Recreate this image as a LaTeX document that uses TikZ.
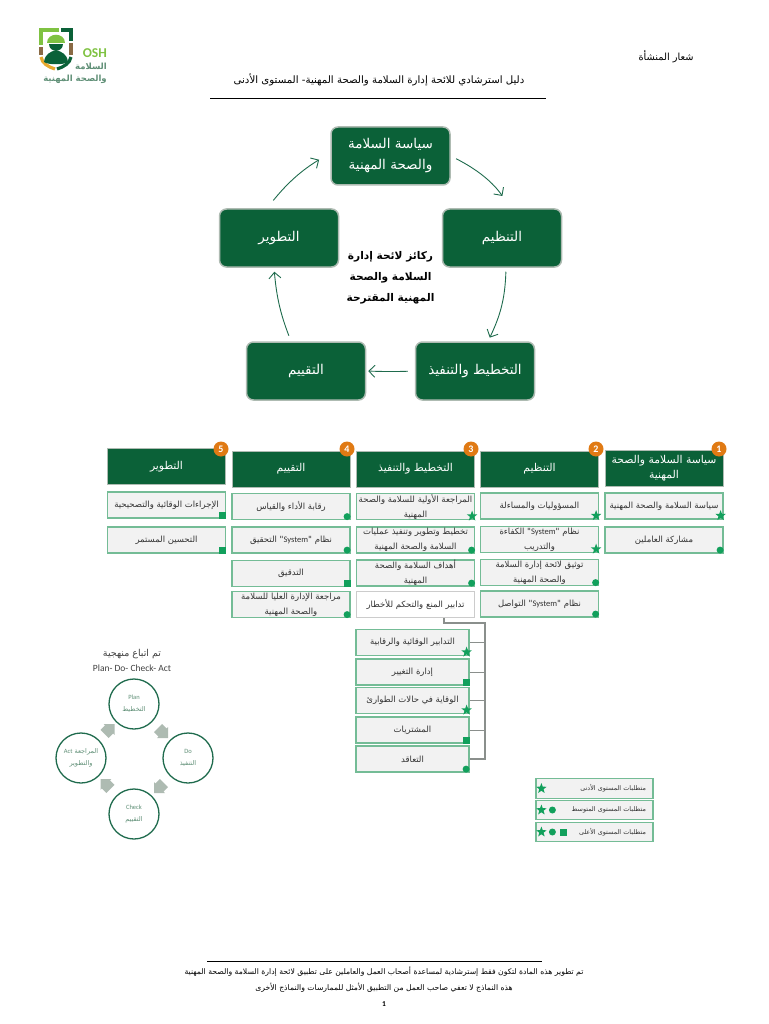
\documentclass[tikz,border=0pt]{standalone}
\usepackage{fontspec}
\TeXXeTstate=1
\setmainfont{Carlito}
\newfontfamily\arabicfont[Script=Arabic]{DejaVu Sans}
\usetikzlibrary{positioning,calc,arrows.meta,shapes.geometric,shapes.arrows}
\definecolor{darkgreen}{HTML}{0B6138}
\definecolor{markgreen}{HTML}{12A05C}
\definecolor{boxline}{HTML}{74BC96}
\definecolor{boxfill}{HTML}{F2F2F2}
\definecolor{ringgreen}{HTML}{1F6B4D}
\definecolor{softgreen}{HTML}{5F8F76}
\definecolor{arrowgrey}{HTML}{AEBBB2}
\definecolor{trunkgrey}{HTML}{8A8F8C}
\definecolor{badgeorange}{HTML}{E07A14}
\definecolor{logolime}{HTML}{7FC242}
\definecolor{logobrown}{HTML}{8A6A45}
\definecolor{logoyellow}{HTML}{E8A92E}
\newcommand{\ar}[1]{{\arabicfont\beginR #1\endR}}
\newcommand{\lat}[1]{\beginL{\normalfont #1}\endL}
\tikzset{
  pillar/.style={draw=arrowgrey, line width=1.5pt, fill=darkgreen, rounded corners=7pt,
    minimum width=119pt, minimum height=58pt, text=white, align=center, font=\fontsize{13.5}{21}\selectfont},
  flowline/.style={draw=ringgreen, line width=0.9pt, -{Straight Barb[length=6pt,width=12pt]}},
  headbox/.style={draw=arrowgrey, line width=0.8pt, fill=darkgreen, minimum width=118pt, minimum height=36pt,
    inner sep=0pt, text=white, align=center, font=\fontsize{10.8}{15}\selectfont},
  itembox/.style={draw=boxline, line width=1.2pt, fill=boxfill, minimum width=118pt, minimum height=26pt,
    inner sep=0pt, align=center, text=black!80, font=\fontsize{8.5}{15}\selectfont},
  riskbox/.style={itembox, draw=black!20, fill=white},
  subbox/.style={itembox, minimum width=113pt},
  badge/.style={circle, fill=badgeorange, minimum size=15pt, inner sep=0pt, text=white, font=\fontsize{10}{10}\bfseries\selectfont},
  starmark/.style={star, star points=5, star point ratio=2.4, fill=markgreen, minimum size=11pt, inner sep=0pt},
  dotmark/.style={circle, fill=markgreen, minimum size=7pt, inner sep=0pt},
  squaremark/.style={rectangle, fill=markgreen, minimum size=7pt, inner sep=0pt},
  legendbox/.style={itembox, minimum width=117pt, minimum height=19.5pt, text width=103pt, inner xsep=7pt,
    align=right, font=\fontsize{6.4}{7}\selectfont},
  pdcaring/.style={circle, draw=ringgreen, line width=1.3pt, fill=white, minimum size=50pt, inner sep=0pt,
    align=center, text=softgreen, font=\fontsize{6.5}{12}\selectfont},
  blockarrow/.style={single arrow, fill=arrowgrey, single arrow head extend=2pt, inner sep=0pt},
  trunk/.style={draw=trunkgrey, line width=1.1pt},
  branch/.style={draw=trunkgrey, line width=0.6pt},
  plain/.style={inner sep=0pt, align=center},
}
\begin{document}
\begin{tikzpicture}[x=1pt, y=-1pt]
  \useasboundingbox (0,0) rectangle (768,1024);

  % logo
  \draw[line width=3.2pt, draw=logolime] (41,45) -- (41,30) -- (59,30);
  \draw[line width=3.2pt, draw=darkgreen] (61,30) -- (71,30) -- (71,41);
  \draw[line width=3.2pt, draw=logobrown] (71,43) -- (71,55);
  \draw[line width=3.2pt, draw=logobrown] (41,47) -- (41,55);
  \draw[line width=3.2pt, draw=logoyellow] (41,57) .. controls (42,63) and (48,67) .. (55,69);
  \draw[line width=3.2pt, draw=darkgreen] (57,69) .. controls (64,67) and (70,63) .. (71,57);
  \fill[logolime] (47,43) .. controls (47,32) and (65,32) .. (65,43) -- cycle;
  \fill[darkgreen] (49,44) .. controls (49,53) and (63,53) .. (63,44) -- cycle;
  \fill[darkgreen] (44,62) .. controls (45,54) and (50,52) .. (56,50) .. controls (62,52) and (67,54) .. (68,62) .. controls (64,65) and (48,65) .. (44,62) -- cycle;
  \node[plain, anchor=east, text=logolime, font=\fontsize{13.5}{14}\bfseries\selectfont] (logoosh) at (107,53) {OSH};
  \node[plain, anchor=east, text=softgreen, font=\fontsize{8.5}{9}\bfseries\selectfont] (logoname) at (107,66) {\ar{السلامة}};
  \node[plain, anchor=east, text=softgreen, font=\fontsize{8.5}{9}\bfseries\selectfont] (logosub) at (107,79) {\ar{والصحة المهنية}};

  % header
  \node[plain, font=\fontsize{9.8}{10}\selectfont] (orglogo) at (666,57) {\ar{شعار المنشأة}};
  \node[plain, font=\fontsize{10.2}{11}\selectfont] (guidetitle) at (379,80) {\ar{دليل استرشادي للائحة إدارة السلامة والصحة المهنية- المستوى الأدنى}};
  \coordinate (ruleleft) at (210,98);
  \coordinate (ruleright) at (546,98);
  \draw[line width=0.7pt] (ruleleft) -- (ruleright);

  % pillars
  \node[pillar] (policy) at (390.5,156) {\ar{سياسة السلامة}\\\ar{والصحة المهنية}};
  \node[pillar] (organize) at (502,238) {\ar{التنظيم}};
  \node[pillar] (develop) at (279,238) {\ar{التطوير}};
  \node[pillar] (plan) at (475,371) {\ar{التخطيط والتنفيذ}};
  \node[pillar] (assess) at (306,371) {\ar{التقييم}};
  \node[plain, font=\fontsize{10.6}{21}\bfseries\selectfont] (pillartitle) at (390.5,278)
    {\ar{ركائز لائحة إدارة}\\\ar{السلامة والصحة}\\\ar{المهنية المقترحة}};

  \draw[flowline, shorten <=6pt, shorten >=15pt] (policy.east) to[bend left=14] ([xshift=9pt]organize.north);
  \draw[flowline, shorten <=4pt, shorten >=4pt] ([xshift=4pt]organize.south) to[bend left=12] ([xshift=13pt]plan.north);
  \draw[flowline, shorten <=7pt, shorten >=2pt] (plan.west) to[bend left=2] (assess.east);
  \draw[flowline, shorten <=6pt, shorten >=4pt] ([xshift=-15pt]assess.north) to[bend left=8] ([xshift=-5pt]develop.south);
  \draw[flowline, shorten <=10pt, shorten >=13pt] ([xshift=-12pt]develop.north) to[bend left=10] ([yshift=3pt]policy.west);

  % table heads
  \node[headbox] (headfive) at (166.5,466.5) {\ar{التطوير}};
  \node[headbox] (headfour) at (291,469) {\ar{التقييم}};
  \node[headbox] (headthree) at (415.5,469) {\ar{التخطيط والتنفيذ}};
  \node[headbox] (headtwo) at (539.5,469) {\ar{التنظيم}};
  \node[headbox] (headone) at (664,468.5) {\ar{سياسة السلامة والصحة}\\\ar{المهنية}};
  \foreach \nm/\bx/\num in {five/221/5,four/347/4,three/471/3,two/596/2,one/719/1}
    \node[badge] (badge\nm) at (\bx,449) {\num};

  % table items
  \foreach \nm/\cx/\cy/\txt in {
    fivea/166.5/505/{\ar{الإجراءات الوقائية والتصحيحية}},
    fiveb/166.5/540/{\ar{التحسين المستمر}},
    foura/291/506.5/{\ar{رقابة الأداء والقياس}},
    fourb/291/540/{\ar{نظام "\lat{System}" التحقيق}},
    fourc/291/573.5/{\ar{التدقيق}},
    fourd/291/604.5/{\ar{مراجعة الإدارة العليا للسلامة}\\\ar{والصحة المهنية}},
    threea/415.5/506.5/{\ar{المراجعة الأولية للسلامة والصحة}\\\ar{المهنية}},
    threeb/415.5/540/{\ar{تخطيط وتطوير وتنفيذ عمليات}\\\ar{السلامة والصحة المهنية}},
    threec/415.5/573/{\ar{أهداف السلامة والصحة}\\\ar{المهنية}},
    twoa/539.5/506/{\ar{المسؤوليات والمساءلة}},
    twob/539.5/539.5/{\ar{نظام "\lat{System}" الكفاءة}\\\ar{والتدريب}},
    twoc/539.5/572.5/{\ar{توثيق لائحة إدارة السلامة}\\\ar{والصحة المهنية}},
    twod/539.5/604/{\ar{نظام "\lat{System}" التواصل}},
    onea/664/506/{\ar{سياسة السلامة والصحة المهنية}},
    oneb/664/540/{\ar{مشاركة العاملين}}}
    \node[itembox] (\nm) at (\cx,\cy) {\txt};
  \node[riskbox] (risk) at (415.5,604.5) {\ar{تدابير المنع والتحكم للأخطار}};

  % sub list of risk box
  \node[subbox] (suba) at (412.5,642.5) {\ar{التدابير الوقائية والرقابية}};
  \node[subbox] (subb) at (412.5,672) {\ar{إدارة التغيير}};
  \node[subbox] (subc) at (412.5,700.5) {\ar{الوقاية في حالات الطوارئ}};
  \node[subbox] (subd) at (412.5,730) {\ar{المشتريات}};
  \node[subbox] (sube) at (412.5,759) {\ar{التعاقد}};
  \coordinate (trunkbend) at (485,623);
  \draw[trunk] ([xshift=28.5pt]risk.south) |- (trunkbend) |- (sube.east);
  \foreach \nm in {suba,subb,subc,subd}
    \draw[branch] (\nm.east) -- (\nm.east -| trunkbend);

  % marks on the items
  \foreach \nm in {threea,twoa,twob,onea,suba,subc}
    \node[starmark] (mark\nm) at ([xshift=-3pt,yshift=4pt]\nm.south east) {};
  \foreach \nm in {foura,fourb,fourd,threeb,threec,twoc,twod,oneb,sube}
    \node[dotmark] (mark\nm) at ([xshift=-3.5pt,yshift=3.5pt]\nm.south east) {};
  \foreach \nm in {fivea,fiveb,fourc,subb,subd}
    \node[squaremark] (mark\nm) at ([xshift=-3.5pt,yshift=3.5pt]\nm.south east) {};

  % legend
  \node[legendbox] (legendlow) at (594.5,788.5) {\ar{متطلبات المستوى الأدنى}};
  \node[legendbox] (legendmid) at (594.5,810) {\ar{متطلبات المستوى المتوسط}};
  \node[legendbox] (legendhigh) at (594.5,832) {\ar{متطلبات المستوى الأعلى}};
  \node[starmark] (legendstara) at ([xshift=6pt]legendlow.west) {};
  \node[starmark] (legendstarb) at ([xshift=6pt]legendmid.west) {};
  \node[dotmark] (legenddotb) at ([xshift=17pt]legendmid.west) {};
  \node[starmark] (legendstarc) at ([xshift=6pt]legendhigh.west) {};
  \node[dotmark] (legenddotc) at ([xshift=17pt]legendhigh.west) {};
  \node[squaremark] (legendsquare) at ([xshift=28pt]legendhigh.west) {};

  % PDCA
  \node[plain, text=black!75, font=\fontsize{9.5}{15}\selectfont] (pdcatitle) at (132,660.5)
    {\ar{تم اتباع منهجية}\\Plan- Do- Check- Act};
  \node[pdcaring] (planring) at (134,704) {Plan\\\ar{التخطيط}};
  \node[pdcaring] (doring) at (188,758) {Do\\\ar{التنفيذ}};
  \node[pdcaring] (checkring) at (134,814) {Check\\\ar{التقييم}};
  \node[pdcaring] (actring) at (81,758) {\ar{المراجعة \lat{Act}}\\\ar{والتطوير}};
  \node[blockarrow, rotate=-45] (plantodo) at ($(planring)!0.5!(doring)$) {\phantom{\rule{8pt}{11pt}}};
  \node[blockarrow, rotate=-135] (dotocheck) at ($(doring)!0.5!(checkring)$) {\phantom{\rule{8pt}{11pt}}};
  \node[blockarrow, rotate=135] (checktoact) at ($(checkring)!0.5!(actring)$) {\phantom{\rule{8pt}{11pt}}};
  \node[blockarrow, rotate=45] (acttoplan) at ($(actring)!0.5!(planring)$) {\phantom{\rule{8pt}{11pt}}};

  % footer
  \coordinate (footleft) at (207,961);
  \coordinate (footright) at (542,961);
  \draw[line width=0.6pt] (footleft) -- (footright);
  \node[plain, font=\fontsize{7.7}{8}\selectfont] (footone) at (384,972) {\ar{تم تطوير هذه المادة لتكون فقط إسترشادية لمساعدة أصحاب العمل والعاملين على تطبيق لائحة إدارة السلامة والصحة المهنية}};
  \node[plain, font=\fontsize{7.7}{8}\selectfont] (foottwo) at (384,988) {\ar{هذه النماذج لا تعفي صاحب العمل من التطبيق الأمثل للممارسات والنماذج الأخرى}};
  \node[plain, font=\fontsize{7.5}{8}\bfseries\selectfont] (pagenum) at (384,1004) {1};
\end{tikzpicture}
\end{document}
